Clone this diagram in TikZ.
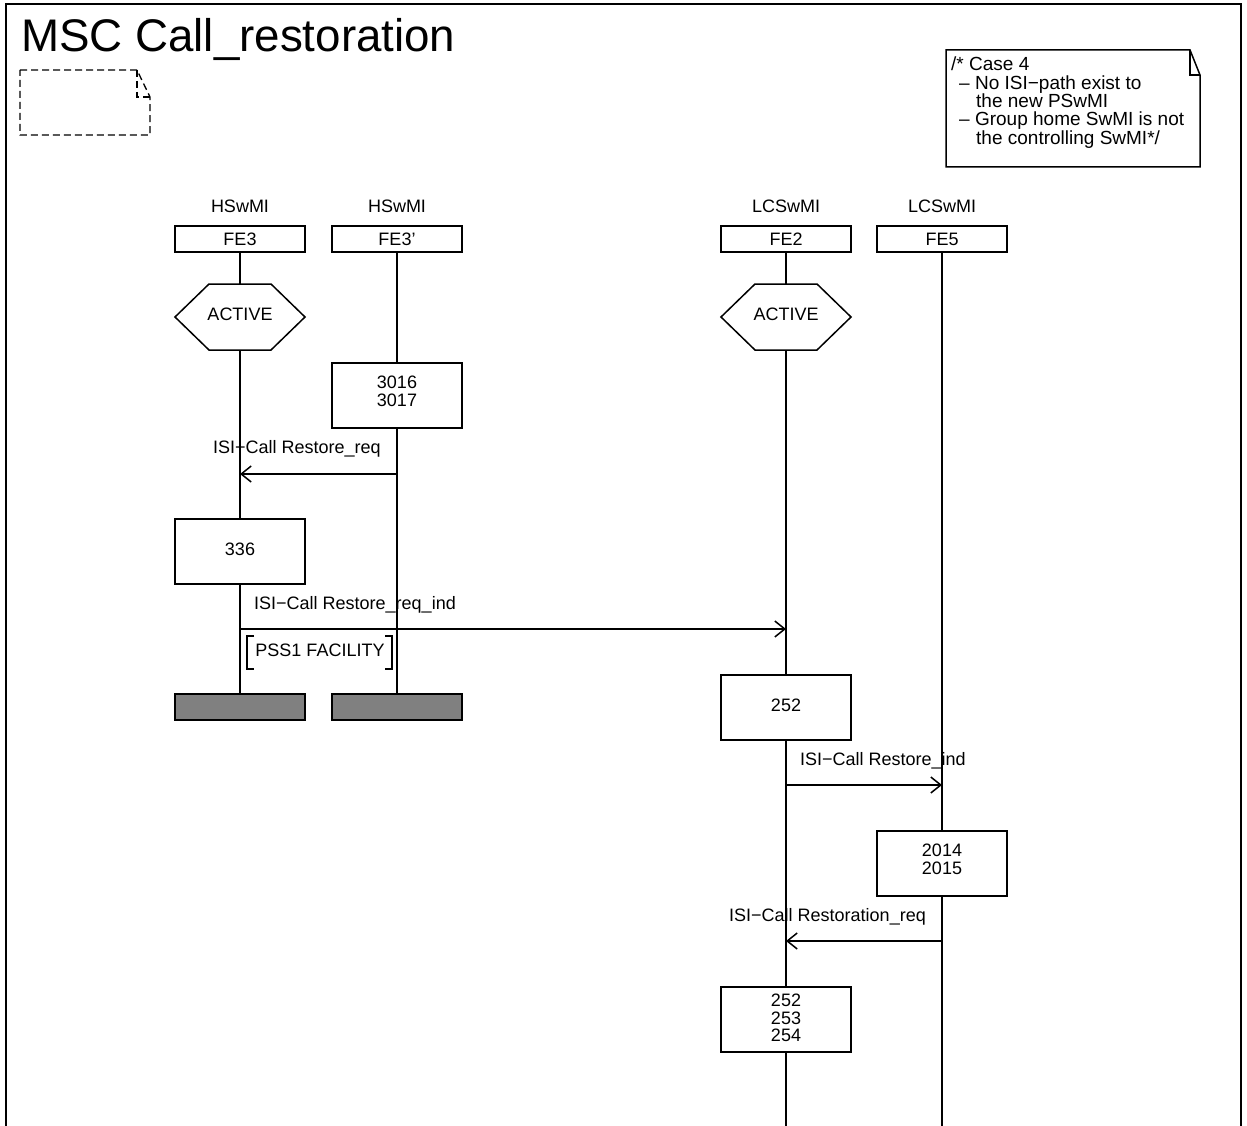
\documentclass[tikz,border=0pt]{standalone}
\usepackage{fontspec}
\setmainfont{Liberation Sans}
\usetikzlibrary{arrows.meta}
\begin{document}
\begin{tikzpicture}[x=1pt,y=-1pt,
  every node/.style={font=\fontsize{18}{18}\selectfont, inner sep=0pt},
  ln/.style={line width=1.5pt},
  fe/.style={draw, line width=1.5pt, minimum width=130pt, minimum height=26pt},
  proc/.style={draw, line width=1.5pt, minimum width=130pt, minimum height=65pt},
  ptext/.style={align=center, font=\fontsize{18}{17.5}\selectfont},
  endbox/.style={draw, line width=1.5pt, fill=gray, minimum width=130pt, minimum height=26pt},
  msg/.style={line width=1.5pt, -{Straight Barb[length=10pt,width=16pt,line width=1.5pt]}},
  lbl/.style={anchor=west},
  hexa/.style={line width=1.5pt},
]
\useasboundingbox (0,0) rectangle (1247,1126);
% frame
\draw[ln] (6,1126) -- (6,4) -- (1241,4) -- (1241,1126);
\node[anchor=base west, font=\fontsize{45.7}{46}\selectfont] (title) at (21,52) {MSC Call\_restoration};
% dashed note
\draw[line width=1.3pt, dash pattern=on 7pt off 4pt] (20,70) -- (137,70) -- (150,97) -- (150,135) -- (20,135) -- cycle;
\draw[line width=1.3pt, dash pattern=on 7pt off 4pt] (137,70) -- (137,97) -- (150,97);
% comment
\draw[ln] (946,50) -- (1190,50) -- (1200,75) -- (1200,167) -- (946,167) -- cycle;
\draw[ln] (1190,50) -- (1190,75) -- (1200,75);
\node[anchor=north west, align=left, font=\fontsize{19}{18.3}\selectfont] (cmt) at (951,57)
  {/* Case 4\\\hspace*{8pt}– No ISI−path exist to\\\hspace*{25pt}the new PSwMI\\\hspace*{8pt}– Group home SwMI is not\\\hspace*{25pt}the controlling SwMI*/};
% instance heads
\node (h1) at (240,206) {HSwMI};
\node (h2) at (397,206) {HSwMI};
\node (h3) at (786,206) {LCSwMI};
\node (h4) at (942,206) {LCSwMI};
\node[fe] (fe3) at (240,239) {FE3};
\node[fe] (fe3p) at (397,239) {FE3’};
\node[fe] (fe2) at (786,239) {FE2};
\node[fe] (fe5) at (942,239) {FE5};
% states
\draw[hexa, shift={(240,317)}] (-65,0) -- (-31,-33) -- (31,-33) -- (65,0) -- (31,33) -- (-31,33) -- cycle;
\draw[hexa, shift={(786,317)}] (-65,0) -- (-31,-33) -- (31,-33) -- (65,0) -- (31,33) -- (-31,33) -- cycle;
\node (s1) at (240,314) {ACTIVE};
\node (s2) at (786,314) {ACTIVE};
\coordinate (s1t) at (240,284); \coordinate (s1b) at (240,350);
\coordinate (s2t) at (786,284); \coordinate (s2b) at (786,350);
% processes
\node[proc] (p3016) at (397,395.5) {};
\node[ptext] at (397,391.5) {3016\\3017};
\node[proc] (p336) at (240,551.5) {};
\node[ptext] at (240,549) {336};
\node[proc] (p252) at (786,707.5) {};
\node[ptext] at (786,705) {252};
\node[proc] (p2014) at (942,863.5) {};
\node[ptext] at (942,859.5) {2014\\2015};
\node[proc] (p252b) at (786,1019.5) {};
\node[ptext] at (786,1018) {252\\253\\254};
% end boxes
\node[endbox] (e1) at (240,707) {};
\node[endbox] (e2) at (397,707) {};
% bottom coordinates
\coordinate (b2) at (786,1126);
\coordinate (b5) at (942,1126);
% lifelines
\draw[ln] (fe3.south) -- (s1t);
\draw[ln] (s1b) -- (p336.north);
\draw[ln] (p336.south) -- (e1.north);
\draw[ln] (fe3p.south) -- (p3016.north);
\draw[ln] (p3016.south) -- (e2.north);
\draw[ln] (fe2.south) -- (s2t);
\draw[ln] (s2b) -- (p252.north);
\draw[ln] (p252.south) -- (p252b.north);
\draw[ln] (p252b.south) -- (b2);
\draw[ln] (fe5.south) -- (p2014.north);
\draw[ln] (p2014.south) -- (b5);
% messages
\coordinate (m1a) at (397,474); \coordinate (m1b) at (240,474);
\draw[msg] (m1a) -- (m1b);
\node[lbl] (l1) at (213,449) {ISI−Call Restore\_req};
\coordinate (m2a) at (240,629); \coordinate (m2b) at (786,629);
\draw[msg] (m2a) -- (m2b);
\node[lbl] (l2) at (254,605) {ISI−Call Restore\_req\_ind};
\coordinate (m3a) at (786,785); \coordinate (m3b) at (942,785);
\draw[msg] (m3a) -- (m3b);
\node[lbl] (l3) at (800,761) {ISI−Call Restore\_ind};
\coordinate (m4a) at (942,941); \coordinate (m4b) at (786,941);
\draw[msg] (m4a) -- (m4b);
\node[lbl] (l4) at (729,917) {ISI−Call Restoration\_req};
% parameter
\node (par) at (320,650) {PSS1 FACILITY};
\draw[ln] (254,636) -- (247,636) -- (247,669) -- (254,669);
\draw[ln] (385,636) -- (392,636) -- (392,669) -- (385,669);
\end{tikzpicture}
\end{document}
